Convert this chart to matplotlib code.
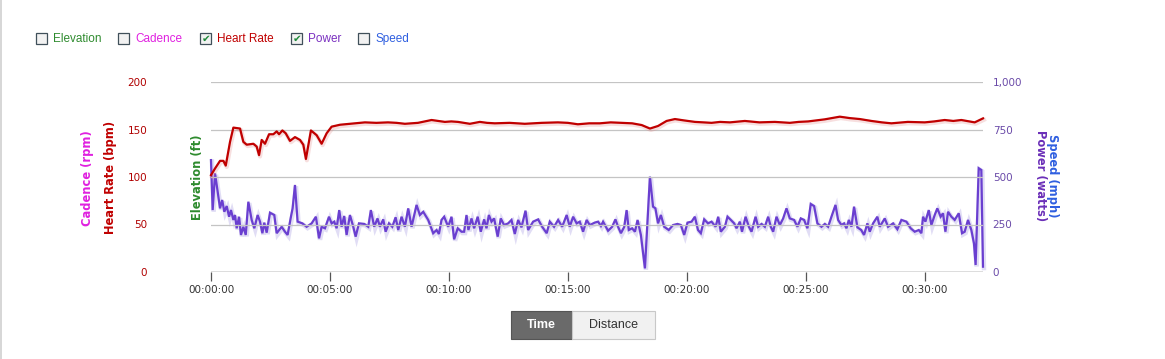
import matplotlib
matplotlib.use("Agg")
import matplotlib.pyplot as plt
import matplotlib.patheffects as pe
from matplotlib.patches import Rectangle
from matplotlib.lines import Line2D
from matplotlib.ticker import FuncFormatter, FixedLocator

# ---------------- data (time in minutes) ----------------
hr_time = [0.0, 0.17, 0.38, 0.52, 0.62, 0.80, 0.94, 1.22, 1.36, 1.50, 1.78, 1.92, 2.02, 2.13,
           2.27, 2.44, 2.62, 2.76, 2.86, 3.00, 3.14, 3.32, 3.53, 3.74, 3.88, 3.99, 4.20, 4.44,
           4.65, 4.86, 5.07, 5.42, 5.63, 6.05, 6.47, 6.95, 7.44, 7.80, 8.15, 8.70, 9.27, 9.55,
           9.83, 10.10, 10.38, 10.88, 11.30, 11.60, 11.93, 12.55, 13.19, 13.90, 14.58, 15.00,
           15.42, 15.90, 16.34, 16.80, 17.26, 17.70, 18.10, 18.45, 18.79, 19.15, 19.50, 19.90,
           20.34, 20.70, 21.04, 21.40, 21.81, 22.44, 23.05, 23.70, 24.33, 24.70, 25.10, 25.80,
           26.43, 26.85, 27.27, 27.76, 28.20, 28.60, 29.29, 30.00, 30.40, 30.84, 31.20, 31.54,
           32.10, 32.45]
hr_bpm = [102, 109, 117, 117, 112, 137, 152, 151, 137, 134, 135, 132, 123, 139,
          135, 145, 145, 148, 145, 149, 146, 138, 142, 139, 134, 119, 149, 144,
          135, 146, 153, 155, 155.5, 156.5, 157.5, 157, 157.5, 157, 156, 157, 160, 159,
          158, 158.5, 158, 156, 158, 157, 156.5, 157, 156, 157, 157.5, 157,
          155.5, 156.5, 156.5, 157.5, 157, 156.5, 154.7, 151, 153.7, 159, 161, 159.5,
          158, 157.5, 157, 158, 157.5, 159, 157.5, 158, 157, 158, 158.5, 160.7,
          163.5, 162, 161, 159, 157.5, 156.5, 158, 157.5, 158.5, 160, 159, 160,
          157.5, 161.7]

pw_time = [0.0, 0.07, 0.17, 0.38, 0.47, 0.56, 0.66, 0.76, 0.84, 0.94, 1.01, 1.08, 1.18, 1.26,
           1.36, 1.46, 1.57, 1.71, 1.82, 1.96, 2.06, 2.16, 2.24, 2.34, 2.48, 2.66, 2.76, 2.97,
           3.11, 3.22, 3.36, 3.43, 3.53, 3.64, 3.84, 4.02, 4.23, 4.41, 4.54, 4.65, 4.79, 4.96,
           5.07, 5.18, 5.28, 5.39, 5.49, 5.60, 5.70, 5.84, 5.98, 6.08, 6.22, 6.44, 6.61, 6.72,
           6.86, 7.00, 7.10, 7.24, 7.34, 7.48, 7.62, 7.76, 7.87, 8.01, 8.15, 8.29, 8.43, 8.64,
           8.78, 8.92, 9.13, 9.34, 9.48, 9.58, 9.69, 9.80, 9.97, 10.11, 10.22, 10.37, 10.53,
           10.64, 10.74, 10.82, 10.95, 11.06, 11.21, 11.34, 11.48, 11.58, 11.68, 11.79, 11.90,
           12.05, 12.18, 12.32, 12.49, 12.63, 12.77, 12.91, 13.05, 13.22, 13.33, 13.54, 13.75,
           13.92, 14.11, 14.24, 14.42, 14.59, 14.76, 14.95, 15.08, 15.22, 15.37, 15.50, 15.64,
           15.79, 15.92, 16.13, 16.27, 16.39, 16.48, 16.69, 16.86, 17.00, 17.11, 17.23, 17.37,
           17.47, 17.56, 17.70, 17.82, 17.93, 18.07, 18.24, 18.45, 18.58, 18.68, 18.79, 18.91,
           19.05, 19.24, 19.42, 19.61, 19.75, 19.89, 20.03, 20.20, 20.34, 20.47, 20.59, 20.73,
           20.89, 21.04, 21.21, 21.32, 21.43, 21.60, 21.71, 21.85, 21.99, 22.09, 22.23, 22.32,
           22.47, 22.61, 22.72, 22.89, 23.00, 23.14, 23.28, 23.42, 23.53, 23.63, 23.77, 23.91,
           24.05, 24.19, 24.33, 24.51, 24.65, 24.79, 24.93, 25.07, 25.21, 25.35, 25.49, 25.66,
           25.80, 25.94, 26.08, 26.25, 26.36, 26.50, 26.61, 26.71, 26.81, 26.92, 27.03, 27.17,
           27.33, 27.45, 27.59, 27.69, 27.83, 28.01, 28.11, 28.32, 28.46, 28.67, 28.85, 29.02,
           29.23, 29.41, 29.58, 29.75, 29.86, 29.93, 30.03, 30.17, 30.28, 30.42, 30.53, 30.67,
           30.77, 30.87, 30.98, 31.12, 31.26, 31.43, 31.57, 31.68, 31.82, 31.96, 32.07, 32.14,
           32.27, 32.38, 32.45]
pw_watts = [589, 326, 519, 335, 379, 317, 347, 291, 326, 274, 300, 230, 291, 195,
            238, 195, 370, 274, 230, 300, 265, 204, 260, 207, 312, 300, 204, 238,
            212, 195, 291, 335, 458, 265, 256, 238, 256, 291, 177, 238, 230, 291,
            256, 265, 230, 326, 238, 295, 195, 300, 238, 186, 256, 253, 238, 326,
            238, 282, 238, 277, 212, 256, 238, 288, 221, 291, 238, 335, 238, 353,
            300, 317, 274, 204, 221, 200, 274, 291, 238, 291, 172, 230, 212,
            212, 300, 221, 282, 230, 291, 212, 277, 230, 300, 265, 282,
            186, 282, 247, 256, 274, 200, 274, 235, 323, 221, 265, 277,
            238, 204, 265, 238, 274, 238, 300, 238, 291, 256, 265, 212,
            274, 247, 260, 265, 242, 265, 217, 238, 277, 238, 204, 238,
            326, 221, 230, 212, 274, 195, 19, 502, 344, 335, 256, 300,
            238, 221, 247, 253, 247, 195, 260, 265, 291, 221, 204, 277,
            256, 265, 238, 291, 212, 238, 291, 274, 256, 230, 265, 212,
            291, 238, 212, 291, 238, 253, 238, 291, 238, 212, 291, 247,
            282, 335, 282, 274, 238, 282, 274, 230, 358, 347, 256, 238,
            253, 238, 291, 353, 274, 247, 256, 230, 274, 238, 344, 235,
            221, 195, 256, 212, 256, 291, 238, 282, 238, 256, 225, 274,
            265, 230, 212, 221, 204, 291, 265, 326, 247, 300, 335, 291,
            309, 212, 317, 291, 274, 309, 204, 212, 274, 221, 151, 37,
            546, 537, 28]

x_ticks = [0, 5, 10, 15, 20, 25, 30]
hr_ticks = [0, 50, 100, 150, 200]
pw_ticks = [0, 250, 500, 750, 1000]

legend_names = ["Elevation", "Cadence", "Heart Rate", "Power", "Speed"]
legend_checked = [False, False, True, True, False]

# ---------------- styling ----------------
C_HR = "#c00000"
C_PW = "#6a3fd0"
C_ELEV = "#2e8b2e"
C_CAD = "#e020e0"
C_SPEED = "#2f5fe0"
C_PWLAB = "#6b2fb8"

W, H = 1165, 359
fig = plt.figure(figsize=(W / 100, H / 100), dpi=100)
fig.patch.set_facecolor("white")


def fx(px):
    return px / W


def fy(py):
    return 1 - py / H


ax = fig.add_axes([fx(211), fy(272), fx(983) - fx(211), fy(82) - fy(272)])
ax2 = ax.twinx()

for a in (ax, ax2):
    for s in a.spines.values():
        s.set_visible(False)
    a.patch.set_alpha(0)

ax.set_xlim(0, 32.45)
ax.set_ylim(0, 200)
ax2.set_ylim(0, 1000)

# gridlines
for v in hr_ticks[1:]:
    ax.axhline(v, color="#c4c4c4", lw=0.9, zorder=0)
ax.axhline(0, color="#555555", lw=1.0, zorder=1)

# x ticks
ax.xaxis.set_major_locator(FixedLocator(x_ticks))
ax.xaxis.set_major_formatter(FuncFormatter(lambda v, p: "00:%02d:00" % int(round(v))))
ax.tick_params(axis="x", direction="out", length=6.5, width=0.9, color="#555555",
               labelsize=7.5, labelcolor="#333333", pad=3)

# left y ticks (pad in points: 64 px)
ax.yaxis.set_major_locator(FixedLocator(hr_ticks))
ax.tick_params(axis="y", length=0, labelsize=7.5, labelcolor="#b00000", pad=46)

# right y ticks
ax2.yaxis.set_major_locator(FixedLocator(pw_ticks))
ax2.yaxis.set_major_formatter(FuncFormatter(lambda v, p: "{:,}".format(int(v))))
ax2.tick_params(axis="y", length=0, labelsize=7.5, labelcolor="#6a4aa8", pad=7)

# lines
glow = [pe.SimpleLineShadow(offset=(0.7, -1.0), shadow_color="#9488dc", alpha=0.28, linewidth=3.2),
        pe.Normal()]
ax2.plot(pw_time, pw_watts, color=C_PW, lw=1.6, solid_joinstyle="miter", zorder=3,
         path_effects=glow, clip_on=False)
glow_hr = [pe.SimpleLineShadow(offset=(0.7, -1.0), shadow_color="#e08080", alpha=0.25, linewidth=3),
           pe.Normal()]
ax.plot(hr_time, hr_bpm, color=C_HR, lw=1.6, zorder=4, path_effects=glow_hr, clip_on=False)
ax.set_zorder(ax2.get_zorder() + 1)

# axis titles
lab_kw = dict(fontsize=8.3, fontweight="bold", family="DejaVu Sans", va="center", ha="center")
fig.text(fx(87), fy(178), "Cadence (rpm)", color=C_CAD, rotation=90, **lab_kw)
fig.text(fx(110), fy(177), "Heart Rate (bpm)", color=C_HR, rotation=90, **lab_kw)
fig.text(fx(197), fy(177), "Elevation (ft)", color=C_ELEV, rotation=90, **lab_kw)
fig.text(fx(1040), fy(176), "Power (watts)", color=C_PWLAB, rotation=270, **lab_kw)
fig.text(fx(1052), fy(176), "Speed (mph)", color=C_SPEED, rotation=270, **lab_kw)

# legend checkboxes
box_x = [36, 118, 200, 291, 358]
text_x = [53, 135, 217, 308, 375]
leg_colors = [C_ELEV, C_CAD, C_HR, "#7a30c0", C_SPEED]
for bx, tx, name, chk, col in zip(box_x, text_x, legend_names, legend_checked, leg_colors):
    fig.patches.append(Rectangle((fx(bx), fy(44)), fx(11), 11 / H, transform=fig.transFigure,
                                 facecolor="#f2f2f2", edgecolor="#40505a", lw=0.9))
    if chk:
        fig.text(fx(bx + 5.8), fy(38.8), "\u2714", color="#1f8a3a", fontsize=7.5,
                 ha="center", va="center", family="DejaVu Sans")
    fig.text(fx(tx), fy(39), name, color=col, fontsize=8.5, family="Liberation Sans",
             ha="left", va="center")

# left page border
fig.add_artist(Line2D([fx(1), fx(1)], [0, 1], transform=fig.transFigure, color="#d0d0d0", lw=1.2))

# Time / Distance toggle
fig.patches.append(Rectangle((fx(511), fy(339)), fx(61), 28 / H, transform=fig.transFigure,
                             facecolor="#6a6a6a", edgecolor="#555555", lw=0.8))
fig.patches.append(Rectangle((fx(572), fy(339)), fx(83), 28 / H, transform=fig.transFigure,
                             facecolor="#f1f1f1", edgecolor="#c8c8c8", lw=0.8))
fig.text(fx(541.5), fy(325), "Time", color="white", fontsize=9, fontweight="bold",
         family="Liberation Sans", ha="center", va="center")
fig.text(fx(613.5), fy(325), "Distance", color="#333333", fontsize=9,
         family="Liberation Sans", ha="center", va="center")

fig.savefig("out.png", dpi=100, facecolor="white")
